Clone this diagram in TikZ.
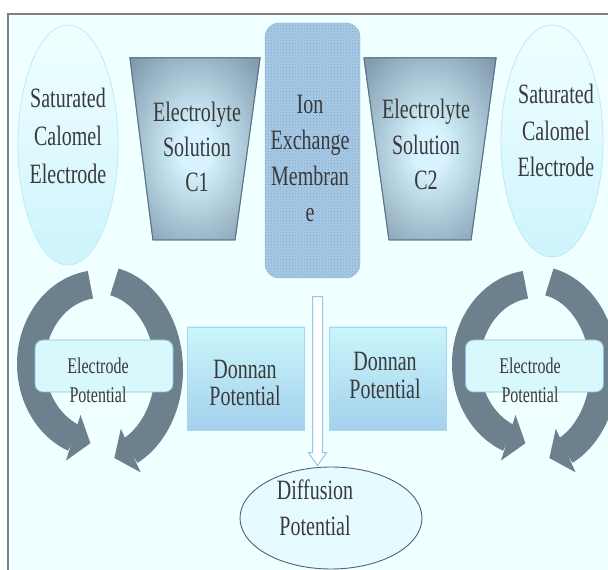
\documentclass[tikz,border=0pt]{standalone}
\usepackage{fontspec}
\setmainfont{Liberation Serif}
\usepackage{graphicx}
\usepackage{tikz}
\usetikzlibrary{shapes.geometric,shapes.arrows,arrows.meta,bending,patterns}

\definecolor{pagebg}{RGB}{240,255,255}
\definecolor{framegray}{RGB}{128,128,128}
\definecolor{inkgray}{RGB}{58,58,58}
\definecolor{slate}{RGB}{108,128,142}
\definecolor{cupglow}{RGB}{214,243,255}
\definecolor{cupmid}{RGB}{132,160,178}
\definecolor{cupedge}{RGB}{92,114,130}
\definecolor{memfill}{RGB}{168,202,230}
\definecolor{memdots}{RGB}{128,166,204}
\definecolor{memedge}{RGB}{146,186,218}
\definecolor{elltop}{RGB}{240,255,255}
\definecolor{ellbot}{RGB}{206,244,252}
\definecolor{elledge}{RGB}{186,236,248}
\definecolor{boxtop}{RGB}{202,246,252}
\definecolor{boxbot}{RGB}{164,208,236}
\definecolor{boxedge}{RGB}{172,212,234}
\definecolor{potfill}{RGB}{216,248,252}
\definecolor{potedge}{RGB}{140,192,222}
\definecolor{diffill}{RGB}{230,251,255}
\definecolor{difedge}{RGB}{82,98,114}
\definecolor{flowedge}{RGB}{150,200,228}

\pgfdeclareradialshading{cupshade}{\pgfpointorigin}{color(0bp)=(cupglow); color(6bp)=(cupglow); color(32bp)=(cupmid); color(50bp)=(cupedge)}

\newcommand{\tallstack}[3]{\scalebox{1}[1.4]{\fontsize{#1}{#2}\selectfont\begin{tabular}{@{}c@{}}#3\end{tabular}}}

\begin{document}
\begin{tikzpicture}[x=1pt, y=1pt,
    lbl/.style={text=inkgray, inner sep=0pt},
    calomel/.style={ellipse, draw=elledge, line width=0.8pt, top color=elltop, bottom color=ellbot, inner sep=0pt},
    cup/.style={shading=cupshade, draw=cupedge, line width=1pt},
    membrane/.style={rectangle, rounded corners=14pt, draw=memedge, fill=memfill, postaction={pattern=crosshatch dots, pattern color=memdots}, minimum width=95pt, minimum height=255pt},
    cyclearrow/.style={draw=slate, line width=28pt, -{Triangle[width=47pt, length=18pt]}},
    potbox/.style={rectangle, rounded corners=8pt, draw=potedge, line width=0.8pt, fill=potfill, minimum width=138pt, minimum height=52pt},
    donnan/.style={rectangle, draw=boxedge, line width=0.6pt, top color=boxtop, bottom color=boxbot, minimum width=117pt, minimum height=103pt},
    flow/.style={single arrow, draw=flowedge, line width=1pt, fill=white, minimum height=169pt, inner xsep=0pt, inner ysep=4.5pt, single arrow head extend=4pt, single arrow tip angle=70, rotate=-90}]
    % frame
    \fill[white] (0,0) rectangle (608,570);
    \useasboundingbox (0,0) rectangle (608,570);
    \fill[pagebg] (8,0) rectangle (608,556);
    \draw[framegray, line width=2.7pt] (8,0) -- (8,556) -- (608,556);

    % electrodes and solutions
    \draw (68,425) node[calomel, minimum width=100pt, minimum height=240pt](scel) {};
    \draw (552,429) node[calomel, minimum width=102pt, minimum height=232pt](scer) {};
    \draw (68,432) node[lbl](scelt) {\tallstack{20}{26.8}{Saturated\\Calomel\\Electrode}};
    \draw (556,437) node[lbl](scert) {\tallstack{20}{26}{Saturated\\Calomel\\Electrode}};

    \shade[cup] (130,512) -- (260,512) -- (235,330) -- (153,330) -- cycle;
    \draw[cup] (130,512) -- (260,512) -- (235,330) -- (153,330) -- cycle;
    \shade[cup] (364,512) -- (496,512) -- (471,330) -- (389,330) -- cycle;
    \draw[cup] (364,512) -- (496,512) -- (471,330) -- (389,330) -- cycle;
    \draw (197,420) node[lbl](solc1) {\tallstack{20}{25}{Electrolyte\\Solution\\C1}};
    \draw (426,423) node[lbl](solc2) {\tallstack{20}{25.5}{Electrolyte\\Solution\\C2}};

    \draw (312.5,419.5) node[membrane](iem) {};
    \draw (310,410) node[lbl](iemt) {\tallstack{20}{25.7}{Ion\\Exchange\\Membran\\e}};

    % circular arrows
    \draw[cyclearrow] (100,206) ++(98:69pt and 80pt) arc[start angle=98, end angle=262, x radius=69pt, y radius=80pt];
    \draw[cyclearrow] (100,200) ++(78:69pt and 90pt) arc[start angle=78, end angle=-78, x radius=69pt, y radius=90pt];
    \draw[cyclearrow] (535,206) ++(98:69pt and 80pt) arc[start angle=98, end angle=262, x radius=69pt, y radius=80pt];
    \draw[cyclearrow] (535,200) ++(78:69pt and 90pt) arc[start angle=78, end angle=-78, x radius=69pt, y radius=90pt];

    % potentials
    \draw (104,204) node[potbox](epl) {};
    \draw (534.5,204) node[potbox](epr) {};
    \draw (98,188) node[lbl](eplt) {\tallstack{16}{21.4}{Electrode\\Potential}};
    \draw (530,188) node[lbl](eprt) {\tallstack{16}{21.4}{Electrode\\Potential}};

    \draw (245.5,191.5) node[donnan](dpl) {};
    \draw (388,191.5) node[donnan](dpr) {};
    \draw (245,183.5) node[lbl](dplt) {\tallstack{20}{19.5}{Donnan\\Potential}};
    \draw (385,191) node[lbl](dprt) {\tallstack{20}{20}{Donnan\\Potential}};

    \draw (317.5,192.5) node[flow](down) {};
    \draw (331,52) node[ellipse, draw=difedge, line width=0.9pt, fill=diffill, minimum width=182pt, minimum height=102pt, inner sep=0pt](dif) {};
    \draw (315,60) node[lbl](dift) {\tallstack{20}{25.7}{Diffusion\\Potential}};
\end{tikzpicture}
\end{document}
